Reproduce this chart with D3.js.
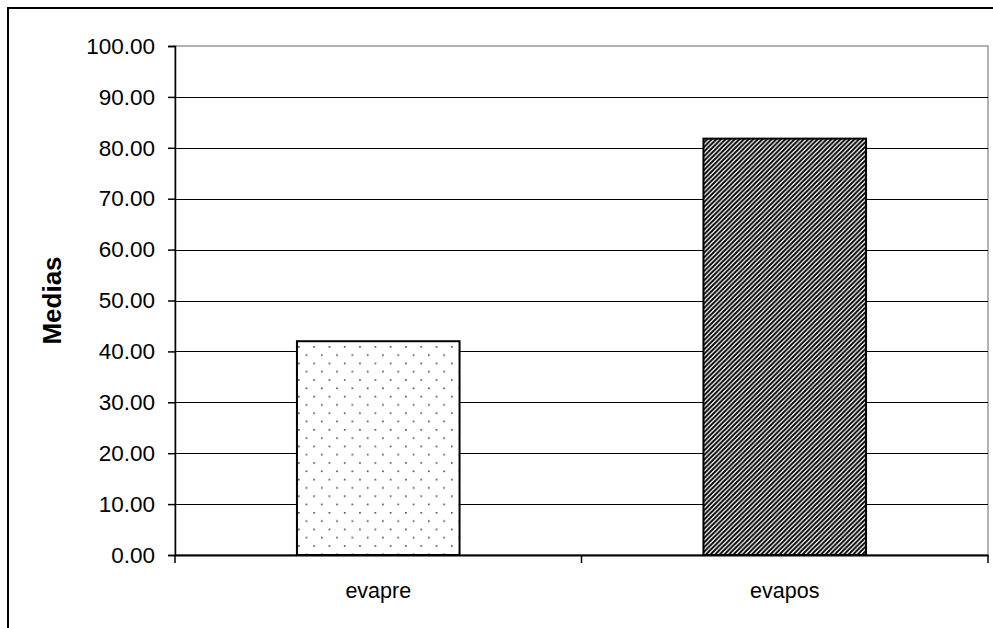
<!DOCTYPE html>
<html>
<head>
<meta charset="utf-8">
<script src="https://cdn.jsdelivr.net/npm/d3@7"></script>
<style>
  html, body { margin: 0; padding: 0; background: #fff; }
  svg { display: block; font-family: Arial, "Liberation Sans", sans-serif; }
</style>
</head>
<body>
<svg id="chart" width="993" height="628"></svg>
<script>
// Mean scores before and after
const categories = ["evapre", "evapos"];
const values = [42.0, 81.8];
const yTicks = [0, 10, 20, 30, 40, 50, 60, 70, 80, 90, 100];
const yTitle = "Medias";

const svg = d3.select("#chart");
const W = 993, H = 628;
const plot = { left: 175, right: 988, top: 46, bottom: 555 };
const FONT = "Arial, 'Liberation Sans', sans-serif";

const defs = svg.append("defs");
// dotted fill
const dots = defs.append("pattern")
  .attr("id", "dots").attr("patternUnits", "userSpaceOnUse")
  .attr("width", 15.3).attr("height", 16.6).attr("x", 297).attr("y", 345);
dots.append("rect").attr("width", 15.3).attr("height", 16.6).attr("fill", "#fff");
dots.append("rect").attr("x", 1).attr("y", 1).attr("width", 1.6).attr("height", 1.6).attr("fill", "#444");
dots.append("rect").attr("x", 8.65).attr("y", 9.3).attr("width", 1.6).attr("height", 1.6).attr("fill", "#444");

// dense diagonal stripes
const stripes = defs.append("pattern")
  .attr("id", "stripes").attr("patternUnits", "userSpaceOnUse")
  .attr("width", 4.6).attr("height", 4.6);
stripes.append("rect").attr("width", 4.6).attr("height", 4.6).attr("fill", "#fff");
stripes.append("path")
  .attr("d", "M-1.15,1.15 L1.15,-1.15 M0,4.6 L4.6,0 M3.45,5.75 L5.75,3.45")
  .attr("stroke", "#000").attr("stroke-width", 1.9);

// outer frame
svg.append("rect")
  .attr("x", 8).attr("y", 8).attr("width", W + 20).attr("height", H + 20)
  .attr("fill", "none").attr("stroke", "#000").attr("stroke-width", 2);

const x = d3.scaleBand().domain(categories).range([plot.left, plot.right]).paddingInner(0).paddingOuter(0);
const y = d3.scaleLinear().domain([0, 100]).range([plot.bottom, plot.top]);

// plot area border
svg.append("rect")
  .attr("x", plot.left).attr("y", plot.top)
  .attr("width", plot.right - plot.left).attr("height", plot.bottom - plot.top)
  .attr("fill", "none").attr("stroke", "#999").attr("stroke-width", 1.5);

// gridlines
svg.append("g").selectAll("line").data(yTicks.filter(d => d > 0 && d < 100)).join("line")
  .attr("x1", plot.left).attr("x2", plot.right)
  .attr("y1", d => Math.round(y(d)) + 0.5).attr("y2", d => Math.round(y(d)) + 0.5)
  .attr("stroke", "#000").attr("stroke-width", 1);

// bars
const bw = x.bandwidth() * 0.4;
svg.append("g").selectAll("rect").data(values).join("rect")
  .attr("x", (d, i) => x(categories[i]) + (x.bandwidth() - bw) / 2)
  .attr("y", d => y(d))
  .attr("width", bw)
  .attr("height", d => y(0) - y(d))
  .attr("fill", (d, i) => i === 0 ? "url(#dots)" : "url(#stripes)")
  .attr("stroke", "#000").attr("stroke-width", 2);

// y axis
const yAxis = svg.append("g").attr("transform", `translate(${plot.left},0)`)
  .call(d3.axisLeft(y).tickValues(yTicks).tickFormat(d3.format(".2f")).tickSize(7).tickPadding(13));
yAxis.attr("font-size", null).attr("font-family", null);
yAxis.select(".domain").attr("stroke", "#000").attr("stroke-width", 1.5);
yAxis.selectAll(".tick line").attr("stroke", "#000").attr("stroke-width", 1.5);
yAxis.selectAll(".tick text").style("font-size", "22.5px").attr("fill", "#000")
  .style("font-family", FONT);

// x axis
const xAxis = svg.append("g").attr("transform", `translate(0,${plot.bottom})`)
  .call(d3.axisBottom(x).tickSize(0).tickPadding(28));
xAxis.attr("font-size", null).attr("font-family", null);
xAxis.select(".domain").attr("stroke", "#000").attr("stroke-width", 2);
xAxis.selectAll(".tick text").style("font-size", "21.5px").attr("fill", "#000")
  .style("font-family", FONT);
// category separators
svg.append("g").selectAll("line")
  .data([plot.left, plot.left + x.bandwidth(), plot.right]).join("line")
  .attr("x1", d => d).attr("x2", d => d)
  .attr("y1", plot.bottom).attr("y2", plot.bottom + 8)
  .attr("stroke", "#000").attr("stroke-width", 1.5);

// y axis title
svg.append("text")
  .attr("transform", `translate(61,${(plot.top + plot.bottom) / 2}) rotate(-90)`)
  .attr("text-anchor", "middle")
  .style("font-size", "26px").attr("font-weight", "bold")
  .style("font-family", FONT)
  .text(yTitle);
</script>
</body>
</html>
